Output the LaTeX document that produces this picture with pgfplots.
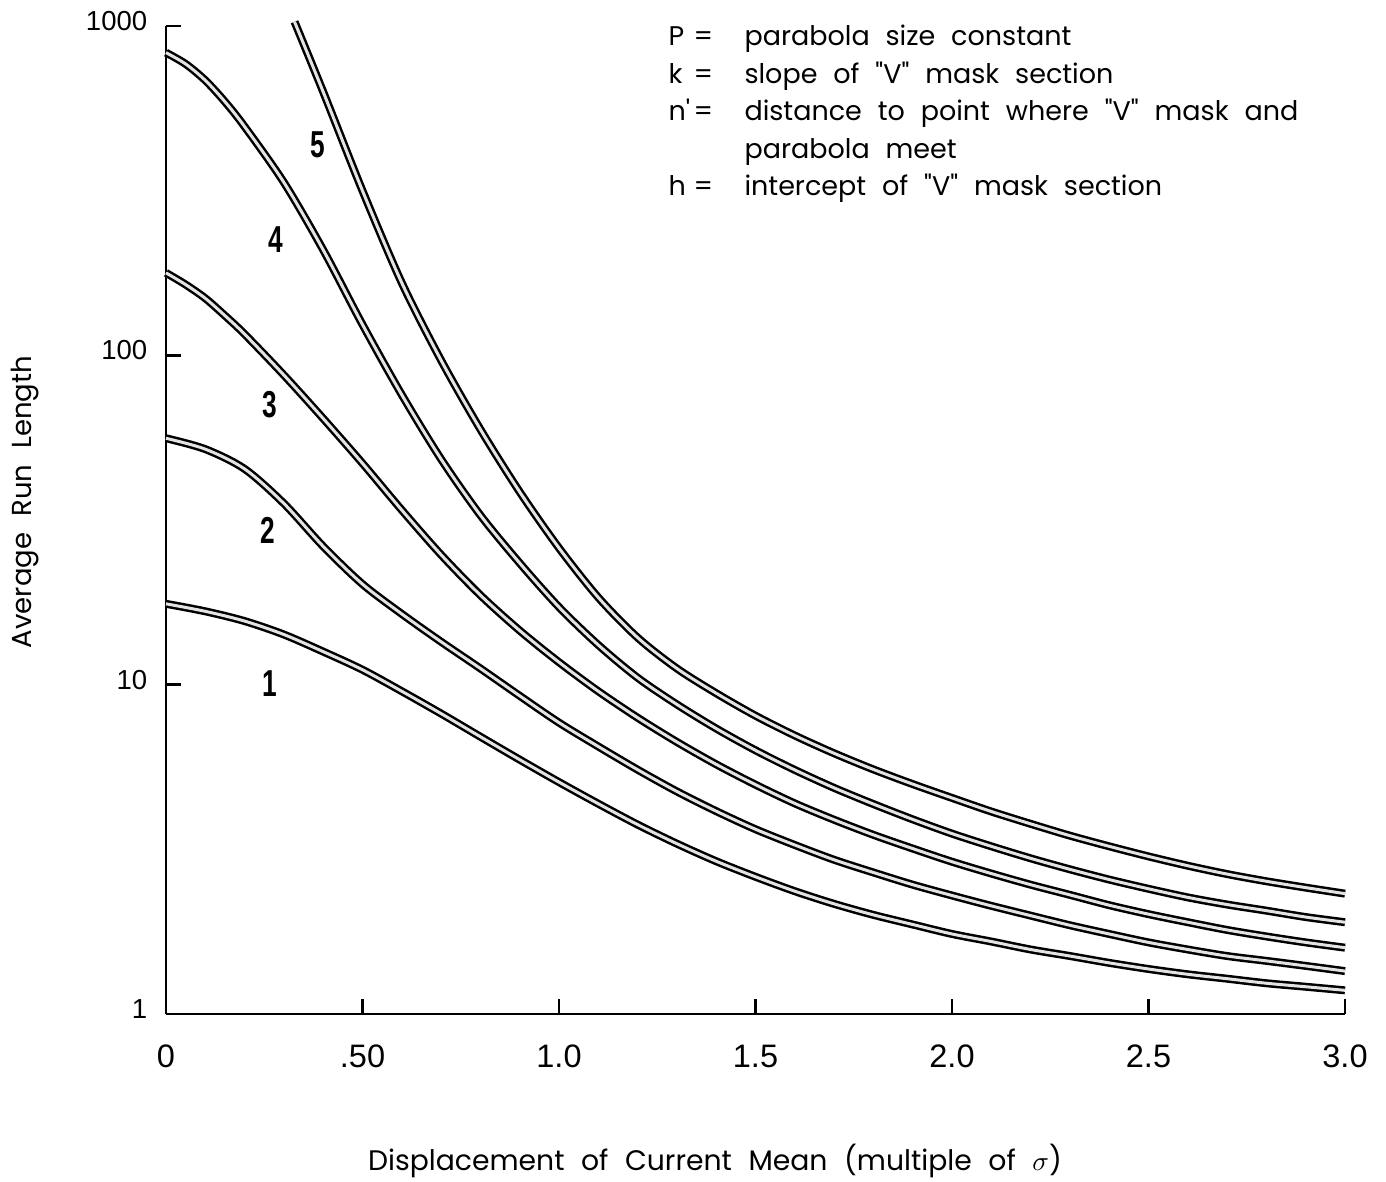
\documentclass[border=0pt]{standalone}
\usepackage{pgfplots}
\pgfplotsset{compat=1.18}
\usepackage{fontspec}
\setmainfont{Poppins}[Ligatures=TeXOff, WordSpace=2.2]
\newfontfamily\tickfont{Liberation Sans}
\newfontfamily\numfont{Liberation Sans}
\begin{document}
\begin{tikzpicture}
\useasboundingbox (-66.4pt,-66.8pt) rectangle (488pt,405.6pt);
\begin{axis}[
  scale only axis, width=471.6pt, height=395.2pt,
  xmin=0, xmax=3, ymode=log, ymin=1, ymax=1000,
  axis x line=bottom, axis y line=left,
  axis line style={-, line width=1.1pt},
  xtick={0,0.5,1,1.5,2,2.5,3}, xticklabels={0,.50,1.0,1.5,2.0,2.5,3.0},
  ytick={1,10,100,1000}, yticklabels={1,10,100,1000},
  yminorticks=false,
  tick align=inside, major tick length=6pt,
  tick style={line width=1.1pt, black},
  xticklabel style={font=\tickfont\fontsize{13}{13}\selectfont, anchor=center, yshift=-17pt},
  yticklabel style={font=\tickfont\fontsize{11}{11}\selectfont, anchor=east, xshift=-4pt, yshift=2pt},
  clip=false,
  every axis plot/.append style={smooth, tension=0.5, line width=1.0pt, double=gray!22, double distance=1.2pt, line cap=butt},
]
% curve 1
\addplot[black] coordinates {(0,17.6) (0.1,16.7) (0.2,15.6) (0.3,14.2) (0.4,12.6) (0.5,11.1) (0.6,9.55) (0.7,8.17) (0.8,6.95) (0.9,5.92) (1.0,5.06) (1.1,4.35) (1.2,3.76) (1.3,3.29) (1.4,2.91) (1.5,2.61) (1.6,2.36) (1.7,2.16) (1.8,2.00) (1.9,1.87) (2.0,1.75) (2.1,1.66) (2.2,1.57) (2.3,1.50) (2.4,1.43) (2.5,1.37) (2.6,1.32) (2.7,1.28) (2.8,1.24) (2.9,1.21) (3.0,1.18)};
% curve 2
\addplot[black] coordinates {(0,56.0) (0.1,51.9) (0.2,45.2) (0.3,35.5) (0.4,26.3) (0.5,20.2) (0.6,16.4) (0.7,13.5) (0.8,11.2) (0.9,9.25) (1.0,7.67) (1.1,6.49) (1.2,5.52) (1.3,4.74) (1.4,4.13) (1.5,3.64) (1.6,3.26) (1.7,2.94) (1.8,2.69) (1.9,2.47) (2.0,2.29) (2.1,2.13) (2.2,1.99) (2.3,1.86) (2.4,1.75) (2.5,1.65) (2.6,1.57) (2.7,1.50) (2.8,1.45) (2.9,1.40) (3.0,1.35)};
% curve 3
\addplot[black] coordinates {(0,178) (0.05,164) (0.1,149) (0.15,132) (0.2,116) (0.3,87.1) (0.4,64.3) (0.5,47.0) (0.6,33.9) (0.7,24.8) (0.8,18.7) (0.9,14.6) (1.0,11.7) (1.1,9.55) (1.2,7.94) (1.3,6.70) (1.4,5.73) (1.5,4.97) (1.6,4.36) (1.7,3.89) (1.8,3.50) (1.9,3.18) (2.0,2.90) (2.1,2.67) (2.2,2.47) (2.3,2.30) (2.4,2.14) (2.5,2.01) (2.6,1.90) (2.7,1.80) (2.8,1.72) (2.9,1.65) (3.0,1.59)};
% curve 4
\addplot[black] coordinates {(0,830) (0.05,767) (0.1,684) (0.15,589) (0.2,495) (0.3,335) (0.4,209) (0.5,124) (0.6,75.9) (0.7,48.4) (0.8,32.7) (0.9,23.4) (1.0,17.2) (1.1,13.2) (1.2,10.5) (1.3,8.71) (1.4,7.36) (1.5,6.32) (1.6,5.51) (1.7,4.86) (1.8,4.34) (1.9,3.90) (2.0,3.53) (2.1,3.23) (2.2,2.97) (2.3,2.75) (2.4,2.56) (2.5,2.40) (2.6,2.26) (2.7,2.15) (2.8,2.06) (2.9,1.97) (3.0,1.90)};
% curve 5
\addplot[black] coordinates {(0.327,1030) (0.4,631) (0.5,316) (0.6,166) (0.7,96.6) (0.8,59.6) (0.9,38.5) (1.0,26.0) (1.1,18.4) (1.2,13.9) (1.3,11.2) (1.4,9.42) (1.5,8.05) (1.6,7.01) (1.7,6.19) (1.8,5.53) (1.9,4.99) (2.0,4.53) (2.1,4.12) (2.2,3.78) (2.3,3.48) (2.4,3.23) (2.5,3.01) (2.6,2.82) (2.7,2.66) (2.8,2.53) (2.9,2.42) (3.0,2.32)};
\node[font=\numfont\bfseries\fontsize{15}{15}\selectfont] at (axis cs:0.387,435) {\scalebox{0.7}[1]{5}};
\node[font=\numfont\bfseries\fontsize{15}{15}\selectfont] at (axis cs:0.280,224) {\scalebox{0.7}[1]{4}};
\node[font=\numfont\bfseries\fontsize{15}{15}\selectfont] at (axis cs:0.265,70.7) {\scalebox{0.7}[1]{3}};
\node[font=\numfont\bfseries\fontsize{15}{15}\selectfont] at (axis cs:0.260,29.5) {\scalebox{0.7}[1]{2}};
\node[font=\numfont\bfseries\fontsize{15}{15}\selectfont] at (axis cs:0.265,10.1) {\scalebox{0.7}[1]{1}};
\end{axis}
\node[font=\fontsize{11.3}{11.3}\selectfont] at (219.6pt,-58.6pt) {Displacement of Current Mean (multiple of $\sigma$)};
\node[font=\fontsize{11}{11}\selectfont, rotate=90] at (-56.4pt,204.8pt) {Average Run Length};
\begin{scope}[every node/.style={anchor=base west, inner sep=0pt, font=\fontsize{10.8}{10.8}\selectfont}]
\node at (200.8pt,387.6pt) {P};   \node at (210.8pt,387.6pt) {=}; \node at (231.2pt,387.6pt) {parabola size constant};
\node at (200.8pt,372.4pt) {k};   \node at (210.8pt,372.4pt) {=}; \node at (231.2pt,372.4pt) {slope of "V" mask section};
\node at (200.8pt,357.6pt) {n'};  \node at (210.8pt,357.6pt) {=}; \node at (231.2pt,357.6pt) {distance to point where "V" mask and};
\node at (231.2pt,342.4pt) {parabola meet};
\node at (200.8pt,327.6pt) {h};   \node at (210.8pt,327.6pt) {=}; \node at (231.2pt,327.6pt) {intercept of "V" mask section};
\end{scope}
\end{tikzpicture}
\end{document}
